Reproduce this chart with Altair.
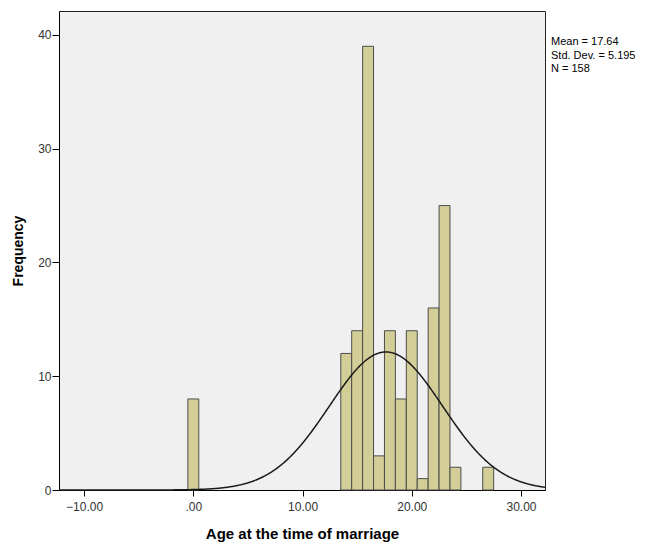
import altair as alt
import pandas as pd

# Histogram bins (bin centre, width 1) and their frequencies
bin_centers = [0, 14, 15, 16, 17, 18, 19, 20, 21, 22, 23, 24, 27]
frequencies = [8, 12, 14, 39, 3, 14, 8, 14, 1, 16, 25, 2, 2]

# Summary statistics shown in the chart
mean_val = 17.64
std_val = 5.195
n_val = 158
stat_lines = ["Mean = 17.64", "Std. Dev. = 5.195", "N = 158"]

x_domain = [-12.3, 32.2]
y_domain = [0, 42.1]
x_ticks = [-10, 0, 10, 20, 30]
y_ticks = [0, 10, 20, 30, 40]

FONT = "Liberation Sans"

bars_df = pd.DataFrame({"center": bin_centers, "count": frequencies})

x_scale = alt.Scale(domain=x_domain, nice=False, zero=False)
y_scale = alt.Scale(domain=y_domain, nice=False)

x_axis = alt.Axis(
    values=x_ticks,
    labelExpr="datum.value == 0 ? '.00' : format(datum.value, '.2f')",
    title="Age at the time of marriage",
    grid=False, tickSize=6, labelPadding=5, titlePadding=14,
    labelFontSize=12, labelColor="#333333", titleFontSize=15, titleFontWeight="bold",
    titleColor="#000000", domainColor="#000000", tickColor="#000000",
    labelFont=FONT, titleFont=FONT,
)
y_axis = alt.Axis(
    values=y_ticks, format="d", title="Frequency",
    grid=False, tickSize=7, labelPadding=1, titlePadding=12,
    labelFontSize=12, labelColor="#333333", titleFontSize=14, titleFontWeight="bold",
    titleColor="#000000", domainColor="#000000", tickColor="#000000",
    labelFont=FONT, titleFont=FONT,
)

bars = alt.Chart(bars_df).transform_calculate(
    x0="datum.center - 0.5", x1="datum.center + 0.5"
).mark_rect(fill="#d3ce97", stroke="#4d4d4d", strokeWidth=1).encode(
    x=alt.X("x0:Q", scale=x_scale, axis=x_axis),
    x2="x1:Q",
    y=alt.Y("count:Q", scale=y_scale, axis=y_axis),
    y2=alt.datum(0),
)

curve = alt.Chart(alt.sequence(x_domain[0], x_domain[1] + 0.05, 0.05, as_="x")).transform_calculate(
    y=f"{n_val} * exp(-0.5 * pow((datum.x - {mean_val}) / {std_val}, 2)) / ({std_val} * sqrt(2 * PI))"
).mark_line(color="#1a1a1a", strokeWidth=1.5).encode(
    x=alt.X("x:Q", scale=x_scale),
    y=alt.Y("y:Q", scale=y_scale),
)

stats = [
    alt.Chart(pd.DataFrame({"line": [txt]})).mark_text(
        align="left", baseline="middle", fontSize=11, font=FONT, color="#000000"
    ).encode(x=alt.value(492), y=alt.value(31 + 13.5 * i), text="line:N")
    for i, txt in enumerate(stat_lines)
]

chart = alt.layer(bars, curve, *stats).properties(
    width=486, height=479,
    autosize=alt.AutoSizeParams(type="none"),
    padding={"left": 51, "top": 3, "right": 96, "bottom": 54},
    background="#ffffff",
).configure_view(
    fill="#f0f0f0", stroke="#222222", strokeWidth=1
)

chart.save("out.html", embed_options={"renderer": "svg", "actions": False})
